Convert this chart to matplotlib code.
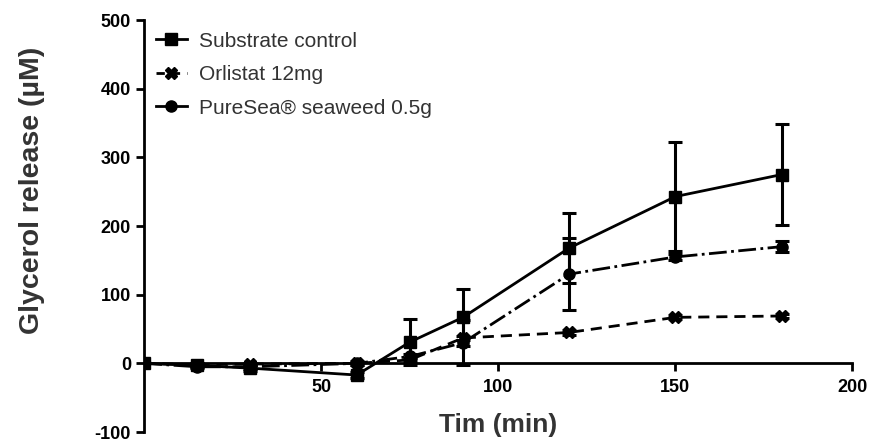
import matplotlib
matplotlib.use('Agg')
import matplotlib.pyplot as plt
from matplotlib.lines import Line2D
from matplotlib.ticker import FixedLocator

plt.rcParams['font.family'] = ['Liberation Sans', 'DejaVu Sans']
plt.rcParams['axes.unicode_minus'] = False

time_min = [0, 15, 30, 60, 75, 90, 120, 150, 180]

control = [0, -3, -7, -17, 31, 67, 168, 243, 275]
control_err = [0, 3, 4, 5, 34, 42, 51, 80, 73]

orlistat = [0, -2, -1, 0, 5, 37, 45, 67, 69]
orlistat_err = [0, 2, 2, 2, 3, 3, 3, 3, 3]

puresea = [0, -5, -5, 0, 10, 30, 130, 155, 170]
puresea_err = [0, 2, 3, 3, 4, 33, 52, 4, 8]

labels = ['Substrate control', 'Orlistat 12mg', 'PureSea\u00ae seaweed 0.5g']

fig = plt.figure(figsize=(8.69, 4.41), dpi=100)
ax = fig.add_axes([0.166, 0.0204, 0.815, 0.934])

common = dict(color='black', lw=2, elinewidth=2.2, capsize=5, capthick=2.2, markersize=8)
ax.errorbar(time_min, control, yerr=control_err, fmt='s-', **common)
ax.errorbar(time_min, orlistat, yerr=orlistat_err, fmt='X--', dashes=(4, 2.5), **common)
ax.errorbar(time_min, puresea, yerr=puresea_err, fmt='o-.', **common)

ax.set_xlim(0, 200)
ax.set_ylim(-100, 500)
ax.spines['top'].set_visible(False)
ax.spines['right'].set_visible(False)
ax.spines['bottom'].set_position(('data', 0))
ax.spines['left'].set_linewidth(2)
ax.spines['bottom'].set_linewidth(2)
ax.spines['left'].set_bounds(-100, 500)
ax.spines['bottom'].set_bounds(0, 200)

ax.xaxis.set_major_locator(FixedLocator([50, 100, 150, 200]))
ax.yaxis.set_major_locator(FixedLocator([-100, 0, 100, 200, 300, 400, 500]))
ax.tick_params(axis='both', width=2, length=6, labelsize=13)
ax.tick_params(axis='x', pad=5)
for t in ax.get_xticklabels() + ax.get_yticklabels():
    t.set_fontweight('bold')

ax.set_ylabel('Glycerol release (\u00b5M)', fontsize=20.5, fontweight='bold',
              color='#333333', va='center')
ax.yaxis.set_label_coords(-0.159, 0.587)
ax.text(100, -90, 'Tim (min)', ha='center', va='center', fontsize=19,
        fontweight='bold', color='#333333')

handles = [
    Line2D([], [], color='black', lw=2, marker='s', markersize=8, linestyle='-'),
    Line2D([], [], color='black', lw=2, marker='X', markersize=8, linestyle='--', dashes=(3, 2.5)),
    Line2D([], [], color='black', lw=2, marker='o', markersize=8, linestyle='-'),
]
ax.legend(handles, labels, loc='upper left', bbox_to_anchor=(0.0, 1.0), frameon=False,
          fontsize=15, handlelength=1.5, handletextpad=0.6, labelspacing=0.7,
          borderaxespad=0.15, labelcolor='#333333')

fig.savefig('out.png', dpi=100)
plt.close()
